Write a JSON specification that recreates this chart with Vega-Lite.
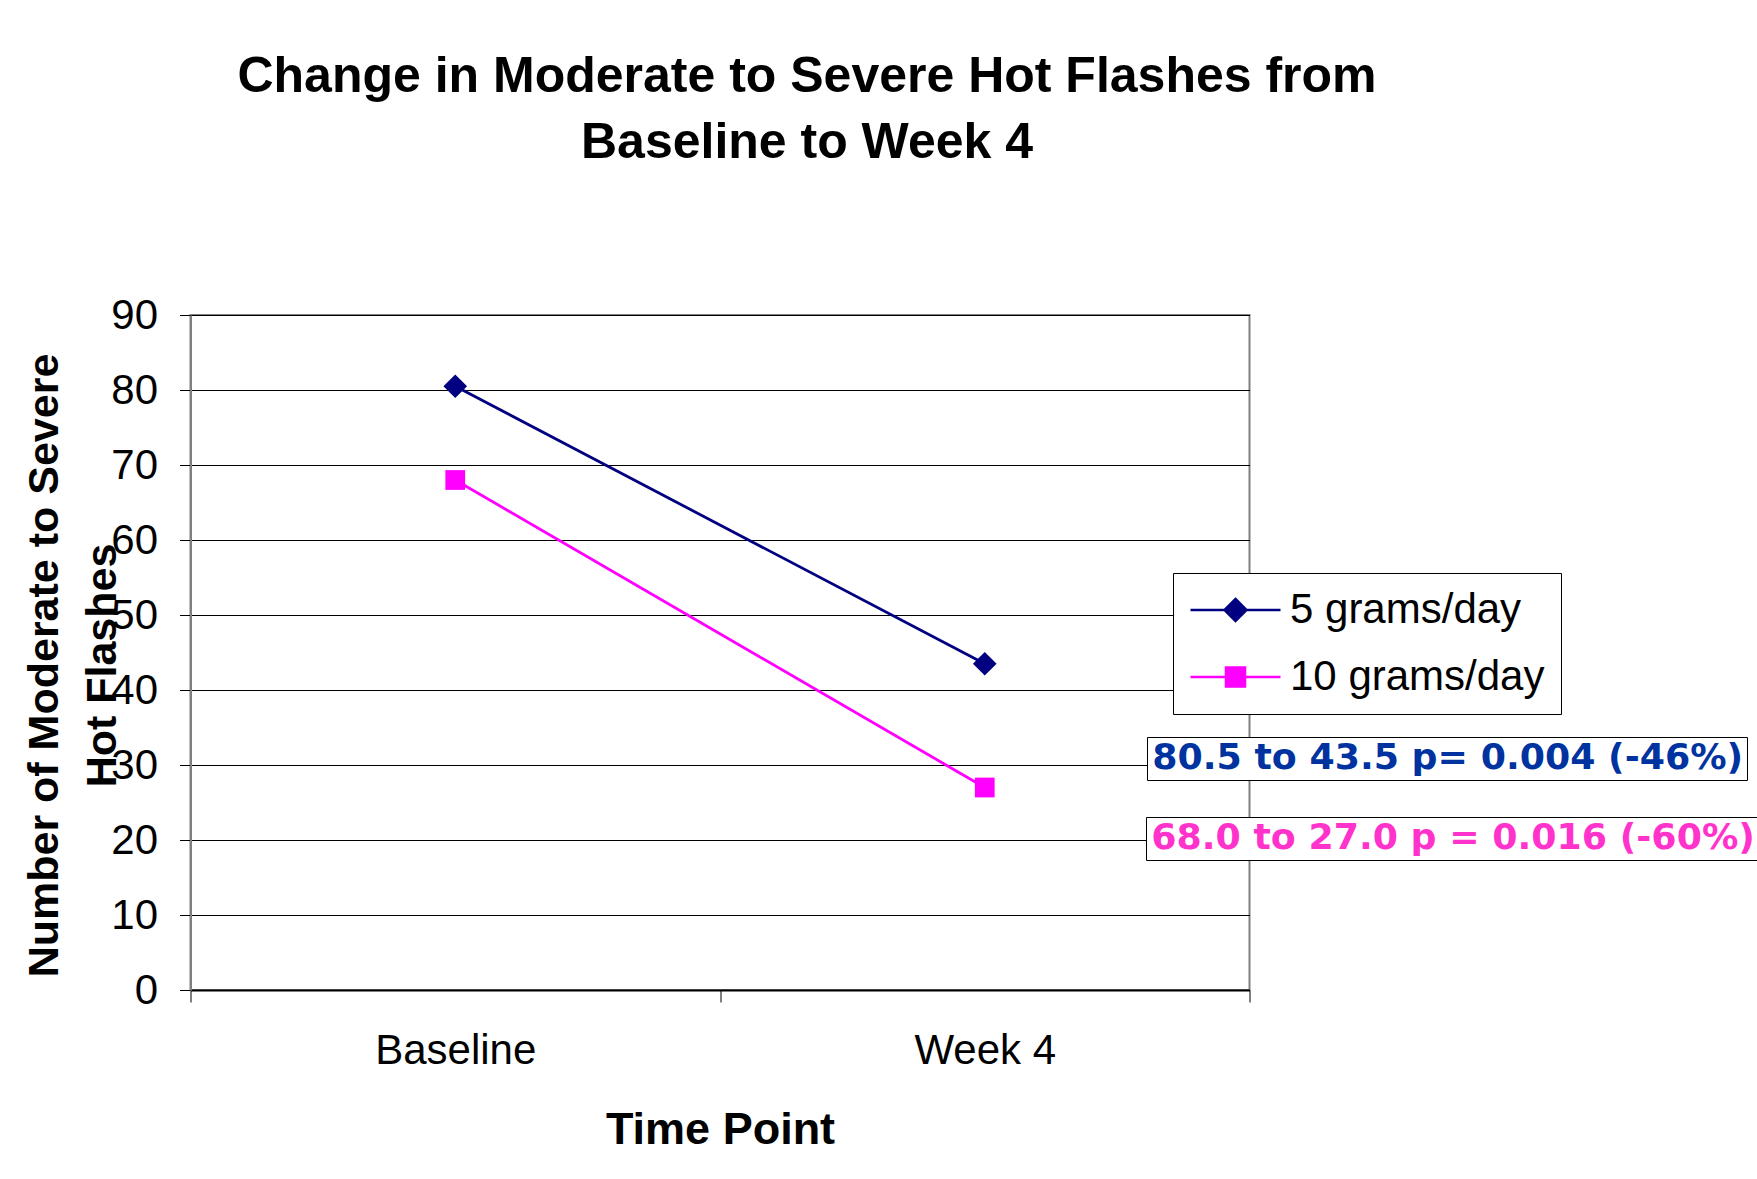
{
  "$schema": "https://vega.github.io/schema/vega-lite/v6.json",
  "width": 1059,
  "height": 675,
  "autosize": {"type": "none"},
  "padding": {"left": 190.5, "top": 315, "right": 507.5, "bottom": 189},
  "background": "white",
  "title": {
    "text": ["Change in Moderate to Severe Hot Flashes from", "Baseline to Week 4"],
    "font": "Liberation Sans",
    "fontSize": 50,
    "fontWeight": "bold",
    "color": "#000000",
    "lineHeight": 66,
    "anchor": "middle",
    "frame": "group",
    "dx": 87,
    "offset": 126
  },
  "datasets": {
    "series": [
      {"time": "Baseline", "group": "5 grams/day", "value": 80.5},
      {"time": "Week 4", "group": "5 grams/day", "value": 43.5},
      {"time": "Baseline", "group": "10 grams/day", "value": 68.0},
      {"time": "Week 4", "group": "10 grams/day", "value": 27.0}
    ],
    "notes": [
      {"group": "5 grams/day", "note": "80.5 to 43.5 p= 0.004 (-46%)"},
      {"group": "10 grams/day", "note": "68.0 to 27.0 p = 0.016 (-60%)"}
    ]
  },
  "config": {
    "view": {"stroke": "#808080", "strokeWidth": 2},
    "font": "Liberation Sans"
  },
  "layer": [
    {
      "data": {"name": "series"},
      "mark": {"type": "line", "strokeWidth": 2.8},
      "encoding": {
        "x": {
          "field": "time",
          "type": "nominal",
          "sort": ["Baseline", "Week 4"],
          "scale": {"type": "band", "paddingInner": 0, "paddingOuter": 0},
          "axis": {
            "title": "Time Point",
            "titleFont": "Liberation Sans",
            "titleFontSize": 45,
            "titleFontWeight": "bold",
            "titleColor": "#000000",
            "titleY": 117,
            "titleBaseline": "top",
            "labelAngle": 0,
            "labelFont": "Liberation Sans",
            "labelFontSize": 42,
            "labelColor": "#000000",
            "labelPadding": 28,
            "tickBand": "extent",
            "tickSize": 12,
            "tickColor": "#000000",
            "tickWidth": 1,
            "domainColor": "#000000",
            "domainWidth": 2,
            "grid": false
          }
        },
        "y": {
          "field": "value",
          "type": "quantitative",
          "scale": {"domain": [0, 90], "nice": false},
          "axis": {
            "values": [0, 10, 20, 30, 40, 50, 60, 70, 80, 90],
            "grid": true,
            "gridColor": "#000000",
            "gridWidth": 1,
            "domainColor": "#808080",
            "domainWidth": 2,
            "tickColor": "#000000",
            "tickSize": 11,
            "tickWidth": 1,
            "labelFont": "Liberation Sans",
            "labelFontSize": 42,
            "labelColor": "#000000",
            "labelPadding": 22,
            "labelOverlap": false,
            "title": ["Number of Moderate to Severe", "Hot Flashes"],
            "titleFont": "Liberation Sans",
            "titleFontSize": 43,
            "titleFontWeight": "bold",
            "titleColor": "#000000",
            "titleLineHeight": 58,
            "titleAngle": -90,
            "titleX": -146.5,
            "titleY": 350,
            "titleAlign": "center",
            "titleBaseline": "middle"
          }
        },
        "color": {
          "field": "group",
          "type": "nominal",
          "scale": {"domain": ["5 grams/day", "10 grams/day"], "range": ["#000080", "#FF00FF"]},
          "legend": {
            "orient": "none",
            "legendX": 982.5,
            "legendY": 258,
            "title": null,
            "strokeColor": "#000000",
            "fillColor": "white",
            "padding": 16,
            "rowPadding": 25,
            "labelFont": "Liberation Sans",
            "labelFontSize": 42,
            "labelColor": "#000000",
            "labelLimit": 1000,
            "labelOffset": 59,
            "symbolSize": 484,
            "symbolStrokeWidth": 2.5,
            "encode": {
              "symbols": {
                "update": {
                  "x": {"value": 46.5},
                  "shape": {"signal": "datum.value === '5 grams/day' ? 'M-4.09,0L4.09,0M0,-1L1,0L0,1L-1,0Z' : 'M-4.09,0L4.09,0M-0.864,-0.864L0.864,-0.864L0.864,0.864L-0.864,0.864Z'"},
                  "fill": {"signal": "datum.value === '5 grams/day' ? '#000080' : '#FF00FF'"},
                  "stroke": {"signal": "datum.value === '5 grams/day' ? '#000080' : '#FF00FF'"}
                }
              }
            }
          }
        }
      }
    },
    {
      "data": {"name": "series"},
      "transform": [{"filter": "datum.group === '5 grams/day'"}],
      "mark": {"type": "point", "shape": "diamond", "filled": true, "size": 560, "opacity": 1},
      "encoding": {
        "x": {"field": "time", "type": "nominal", "sort": ["Baseline", "Week 4"]},
        "y": {"field": "value", "type": "quantitative"},
        "color": {"field": "group", "type": "nominal"}
      }
    },
    {
      "data": {"name": "series"},
      "transform": [{"filter": "datum.group === '10 grams/day'"}],
      "mark": {"type": "point", "shape": "square", "filled": true, "size": 390, "opacity": 1},
      "encoding": {
        "x": {"field": "time", "type": "nominal", "sort": ["Baseline", "Week 4"]},
        "y": {"field": "value", "type": "quantitative"},
        "color": {"field": "group", "type": "nominal"}
      }
    },
    {
      "data": {"name": "notes"},
      "transform": [{"filter": "datum.group === '5 grams/day'"}],
      "mark": {"type": "point", "opacity": 0},
      "encoding": {
        "shape": {
          "field": "note",
          "type": "nominal",
          "legend": {
            "orient": "none",
            "legendX": 956.5,
            "legendY": 422,
            "title": null,
            "strokeColor": "#000000",
            "fillColor": "white",
            "padding": 3,
            "labelFont": "DejaVu Sans",
            "labelFontWeight": "bold",
            "labelFontSize": 36.3,
            "labelColor": "#0033A0",
            "labelLimit": 1000,
            "labelOffset": -34,
            "symbolSize": 0,
            "encode": {"legend": {"update": {"strokeWidth": {"value": 2}}}}
          }
        }
      }
    },
    {
      "data": {"name": "notes"},
      "transform": [{"filter": "datum.group === '10 grams/day'"}],
      "mark": {"type": "point", "opacity": 0},
      "encoding": {
        "strokeDash": {
          "field": "note",
          "type": "nominal",
          "legend": {
            "orient": "none",
            "legendX": 955.5,
            "legendY": 502,
            "title": null,
            "strokeColor": "#000000",
            "fillColor": "white",
            "padding": 3,
            "labelFont": "DejaVu Sans",
            "labelFontWeight": "bold",
            "labelFontSize": 36.3,
            "labelColor": "#FF33CC",
            "labelLimit": 1000,
            "labelOffset": -34,
            "symbolSize": 0,
            "encode": {"legend": {"update": {"strokeWidth": {"value": 2}}}}
          }
        }
      }
    }
  ]
}
